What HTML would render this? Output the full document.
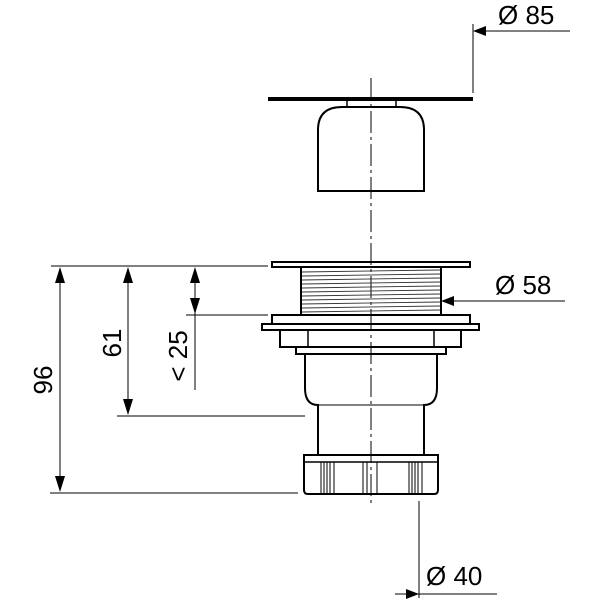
<!DOCTYPE html>
<html><head><style>body{margin:0;background:#fff}svg{display:block}</style></head><body>
<svg width="600" height="600" viewBox="0 0 600 600" xmlns="http://www.w3.org/2000/svg" font-family="Liberation Sans, sans-serif">
<rect width="600" height="600" fill="#fff"/>
<g stroke="#000" fill="none">
<line x1="371" y1="78" x2="371" y2="505" stroke-width="1" stroke-dasharray="22,4,3,4"/>
<line x1="268" y1="99" x2="473" y2="99" stroke-width="4"/>
<rect x="347" y="100" width="49" height="7" stroke-width="1.5"/>
<path d="M318 191 V130 Q318 107 342 107 H400 Q424 107 424 130 V191 Z" stroke-width="2"/>
<line x1="473" y1="24" x2="473" y2="93" stroke-width="1"/>
<line x1="480" y1="31" x2="570" y2="31" stroke-width="1"/>
<rect x="272" y="262" width="198" height="5" stroke-width="2"/>
<rect x="301" y="267" width="140" height="48" stroke-width="2"/>
<g stroke-width="0.9" stroke="#333">
<line x1="302" y1="272" x2="440" y2="270"/><line x1="302" y1="276" x2="440" y2="274"/>
<line x1="302" y1="280" x2="440" y2="278"/><line x1="302" y1="284" x2="440" y2="282"/>
<line x1="302" y1="288" x2="440" y2="286"/><line x1="302" y1="292" x2="440" y2="290"/>
<line x1="302" y1="296" x2="440" y2="294"/><line x1="302" y1="300" x2="440" y2="298"/>
<line x1="302" y1="304" x2="440" y2="302"/><line x1="302" y1="308" x2="440" y2="306"/>
<line x1="302" y1="312" x2="440" y2="310"/>
</g>
<rect x="272" y="315" width="198" height="9" stroke-width="2"/>
<rect x="262" y="324" width="217" height="6" stroke-width="2"/>
<rect x="280" y="330" width="181" height="17" stroke-width="2"/>
<line x1="308" y1="330" x2="308" y2="347" stroke-width="1.5"/>
<line x1="434" y1="330" x2="434" y2="347" stroke-width="1.5"/>
<rect x="296" y="347" width="150" height="7" stroke-width="2"/>
<path d="M305 354 V388 Q305 405 318 405 V455 M437 354 V388 Q437 405 424 405 V455" stroke-width="2"/>
<line x1="318" y1="405" x2="424" y2="405" stroke-width="1"/>
<path d="M304 455 H438 V490 Q438 494 434 494 H308 Q304 494 304 490 Z" stroke-width="2"/>
<line x1="304" y1="462" x2="438" y2="462" stroke-width="1.5"/>
<g stroke-width="1">
<line x1="321" y1="462" x2="321" y2="494"/><line x1="324" y1="462" x2="324" y2="494"/><line x1="327" y1="462" x2="327" y2="494"/><line x1="330" y1="462" x2="330" y2="494"/><line x1="334" y1="462" x2="334" y2="494"/>
<line x1="363" y1="462" x2="363" y2="494"/><line x1="367" y1="462" x2="367" y2="494"/><line x1="377" y1="462" x2="377" y2="494"/>
<line x1="409" y1="462" x2="409" y2="494"/><line x1="412" y1="462" x2="412" y2="494"/><line x1="415" y1="462" x2="415" y2="494"/><line x1="418" y1="462" x2="418" y2="494"/><line x1="422" y1="462" x2="422" y2="494"/>
</g>
<g stroke-width="1">
<line x1="51" y1="266" x2="268" y2="266"/>
<line x1="186" y1="315" x2="268" y2="315"/>
<line x1="117" y1="416" x2="305" y2="416"/>
<line x1="50" y1="493" x2="298" y2="493"/>
<line x1="60" y1="272" x2="60" y2="487"/>
<line x1="128" y1="272" x2="128" y2="410"/>
<line x1="195" y1="272" x2="195" y2="390"/>
<line x1="448" y1="301" x2="565" y2="301"/>
<line x1="419" y1="501" x2="419" y2="598"/>
<line x1="395" y1="594" x2="497" y2="594"/>
</g>
</g>
<g fill="#000">
<polygon points="473,31 486,26 486,36"/>
<polygon points="441,301 454,296 454,306"/>
<polygon points="419,594 406,589 406,599"/>
<polygon points="60,267 55,283 65,283"/><polygon points="60,492 55,476 65,476"/>
<polygon points="128,267 123,283 133,283"/><polygon points="128,415 123,399 133,399"/>
<polygon points="195,267 190,283 200,283"/><polygon points="195,314 190,298 200,298"/>
</g>
<g font-size="26" fill="#000">
<text x="498" y="24">Ø 85</text>
<text x="495" y="294">Ø 58</text>
<text x="426" y="585">Ø 40</text>
<text transform="translate(52,380) rotate(-90)" text-anchor="middle">96</text>
<text transform="translate(121,343) rotate(-90)" text-anchor="middle">61</text>
<text transform="translate(187,356) rotate(-90)" text-anchor="middle">&lt; 25</text>
</g>
</svg>
</body></html>
